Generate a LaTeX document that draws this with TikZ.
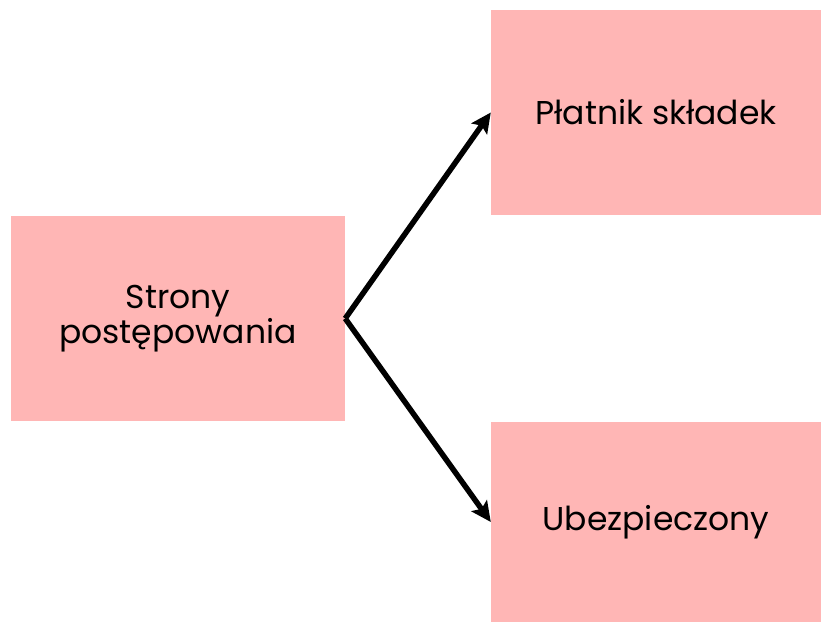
\documentclass[tikz,border=0pt]{standalone}
\usepackage{fontspec}
\setmainfont{Poppins}
\usetikzlibrary{arrows.meta}
\definecolor{boxpink}{HTML}{FFB6B5}
\begin{document}
\begin{tikzpicture}[x=1pt,y=1pt,
  pbox/.style={fill=boxpink, draw=none, align=center, font=\fontsize{33}{33}\selectfont, inner sep=0pt},
  conn/.style={line width=5.5pt, -{Stealth[length=20pt,width=19pt,inset=4pt]}}]
\useasboundingbox (0,0) rectangle (821,623);
\node[pbox, minimum width=334pt, minimum height=205pt] (s) at (178,304.5) {Strony\\postępowania};
\node[pbox, minimum width=330pt, minimum height=205pt] (p) at (656,510.5) {Płatnik składek};
\node[pbox, minimum width=330pt, minimum height=200pt] (u) at (656,101) {Ubezpieczony};
\draw[conn] (s.east) -- (p.west);
\draw[conn] (s.east) -- (u.west);
\end{tikzpicture}
\end{document}
